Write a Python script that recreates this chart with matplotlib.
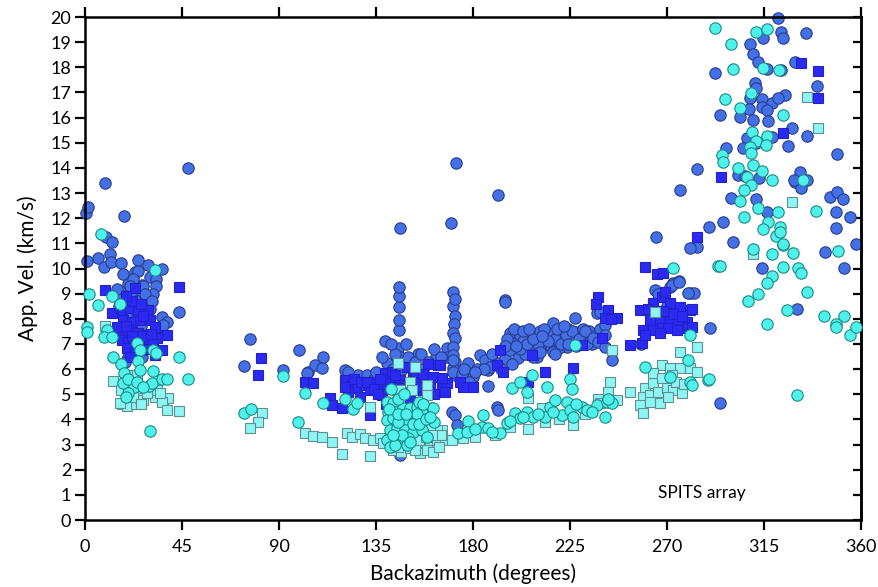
import matplotlib
matplotlib.use("Agg")
import matplotlib.pyplot as plt

plt.rcParams['font.family'] = ['Lato', 'DejaVu Sans']

# (backazimuth deg, apparent velocity km/s)
blue_circles = [
    (0.5,12.2),(1.3,12.45),(9.3,13.4),(18.1,12.1),(47.8,14.0),(9.7,11.25),(12.7,11.05),(0.8,10.3),(6.1,10.4),
    (8.9,10.07),(11.6,10.57),(12.1,10.27),(16.6,10.2),(17.7,9.78),(20,9.4),(23.2,9.87),(24.7,10.35),(24.6,9.9),
    (29.3,10.14),(35.6,10.0),(30,9.67),(33,9.57),(33,9.32),(26.3,9.35),(31.4,9.0),(17,8.95),(24,9.1),(27.8,8.63),
    (23.2,8.75),(43.6,8.27),(35.7,8.07),(38,7.87),(20,6.48),(18.5,6.3),(26.4,6.48),(20.5,8.6),(22,8.0),(26,7.7),
    (29,7.3),(24,6.9),(21,6.7),(28,6.8),(33,7.6),(36,7.75),(19,8.2),(15,9.2),(27,9.3),(22.5,9.6),(25.5,8.3),(20.8,9.0),
    (21,9.3),(23,8.4),(28,9.0),(30,8.4),(19.5,7.3),(25,7.0),(31,8.7),(16,8.5),
    (76.5,7.2),(73.8,6.12),(91.8,5.96),(99.5,6.76),(103.6,5.89),(106.7,6.16),(109.9,6.04),(110.4,6.48),(103,5.84),
    (120.6,5.96),(126.6,5.77),(122,5.9),(131,5.75),(134,5.6),(139.1,7.12),(140.1,6.24),(145.2,6.84),(146.1,6.48),
    (148.4,6.24),(154.5,6.6),(161,6.24),(167.9,6.84),(167.9,6.48),(145.6,7.55),(145.6,7.95),(145.6,8.47),(145.8,8.9),
    (145.6,9.26),(146.1,11.6),(146.1,2.58),(143,6.0),(151,6.1),(157,6.0),(163,6.5),(138,6.5),(135,5.9),
    (147,6.0),(150,6.5),(153,6.3),(156,6.6),(159,6.3),(162,6.8),(165,6.5),(149,7.0),(144,6.6),(142,7.0),
    (172.1,14.2),(169.8,11.82),(191.6,12.92),(170.7,9.07),(194.8,8.75),(170.7,8.51),(171.6,8.8),(171.6,8.1),(171,7.8),
    (170.7,7.43),(171.6,7.24),(170.7,6.88),(170.7,6.56),(171.6,6.28),(170.7,6.04),(171.6,5.77),(170.7,5.89),
    (170.2,4.29),(171.6,4.17),(172.5,3.78),(170.7,6.36),
    (177.6,6.24),(183.2,6.56),(185.5,6.36),(186.9,5.96),(180,5.69),(186.9,5.33),(191.1,6.24),(194.8,6.44),(197.1,7.43),
    (200.4,7.03),(201.8,7.36),(197.1,6.76),(200.8,6.44),(205,6.84),(206.4,7.36),(209.6,7.28),(212,6.84),(209.6,6.48),
    (214.3,7.03),(214.7,7.36),(217.1,7.83),(218.9,7.48),(220.3,7.16),(221.7,7.48),(223.6,6.88),(225,7.28),(227.3,8.03),
    (228.2,7.48),(228.7,7.08),(232.8,7.28),(237.5,8.23),(237.5,7.43),(191.1,4.49),(191.6,4.37),(194.8,8.67),(203,7.1),
    (204,6.6),(207.5,7.0),(211,7.5),(213,7.2),(216,6.9),(216.5,7.4),(219,7.0),(222.5,7.25),(224,7.6),(226,7.0),
    (230,7.4),(231,7.1),(234,7.5),(235,7.0),(188,6.1),(193,6.0),(198,6.2),(202,6.8),(208,6.5),(175,5.8),(178,5.5),
    (182,6.0),(199,7.0),(210,7.0),(218,7.2),(227,7.3),(220,6.85),
    (196,7.2),(199,7.6),(203,7.5),(205,7.0),(208,7.2),(211,6.7),(213,7.6),(215,7.1),(217,6.7),(219,7.6),(221,7.0),
    (223,7.35),(224,7.0),(226,7.5),(229,7.2),(231,7.6),(233,7.0),(236,7.3),(239,7.6),(195,6.9),(189,6.6),(185,6.0),
    (181,5.9),(176,6.0),(200,6.9),(206,7.6),(212,7.3),(218,6.6),(222,7.7),(228,6.9),(232,7.5),
    (272.7,9.42),(275.5,9.5),(280.6,9.03),(282.5,9.03),(271.3,9.27),(264.4,9.15),(289.9,7.63),(238.9,8.27),
    (241.2,7.75),(241.2,7.36),(235.6,7.24),(238,7.08),(241.2,6.88),(244.4,6.36),(294.5,4.65),(264.8,11.27),
    (272.1,9.34),(279.8,9.01),(275.7,9.48),(283.7,13.94),(276,13.12),(283.7,10.87),(280.6,10.8),(289.6,11.66),
    (295.8,11.86),(300.7,11.07),(292.2,17.78),(294.5,16.1),(297.3,14.78),(299.9,12.82),(262,7.6),(268,8.0),
    (274,7.8),(278,8.3),(266,9.0),(270,8.5),(258,7.0),
    (321.6,19.95),(323.1,19.42),(314.6,19.15),(323.6,19.15),(334.7,19.35),(308.4,18.91),(310,18.53),(312.3,18.22),
    (316.2,17.92),(329.3,18.22),(323.1,17.89),(339.4,17.26),(310.8,17.39),(311.5,17.17),(308.4,16.79),(313.9,16.73),
    (318.5,16.57),(324.7,16.9),(321.6,16.77),(314.3,16.43),(316.2,16.3),(308.1,16.33),(304.1,16.01),(309.7,15.9),
    (316.9,15.86),(328.2,15.57),(335,15.27),(306.9,15.2),(326.2,14.87),(305.3,14.78),(311.5,15.0),(318.5,15.24),
    (349.1,14.55),(303,13.72),(312.6,13.59),(329.3,13.45),(332.1,13.21),(331.6,13.85),(311.1,12.75),(316.2,12.25),
    (345.5,12.85),(349.1,13.05),(351.7,12.75),(348.3,12.26),(354.9,12.06),(348.6,11.6),(357.9,10.96),(343.2,10.64),
    (352,10.03),(314.3,10.01),(330.1,8.38),(335,13.51),(306.1,13.67),(329.0,13.51),
]

blue_squares = [
    (9.3,9.15),(23.2,9.22),(43.6,9.26),(12.7,8.22),(17.0,8.35),(20.9,8.42),(24.7,8.28),(29.4,8.35),(17.8,7.95),
    (21.7,7.88),(25.5,7.95),(30.1,7.95),(32.5,7.69),(37.1,7.36),(16.2,7.55),(20.1,7.55),(24.7,7.42),(28.6,7.36),
    (33.2,7.22),(17.0,7.16),(20.1,7.09),(23.2,7.16),(27.8,7.03),(31.7,7.03),(35.6,6.76),(19.3,6.83),(23.2,6.69),
    (32.5,6.56),(14.8,7.67),(38,7.36),(22,8.7),(26,8.6),(19,8.9),(27,8.1),(19,7.7),(26.5,7.3),(30.5,7.4),(22,7.3),
    (25,6.9),(29.5,6.8),(21,6.5),
    (81.6,6.44),(80.2,5.77),(102,5.49),(105.9,5.45),(113.6,4.85),(114.6,4.57),(119.2,4.45),(120.6,5.57),(123.8,5.37),
    (126.2,5.25),(129.9,5.37),(132.2,5.17),(132.2,4.17),(135.4,5.45),(138.2,5.37),(141.5,5.57),(139.1,5.84),
    (142.4,5.89),(146.1,5.57),(148.4,5.37),(146.1,5.25),(152.1,5.69),(154.5,5.45),(158.6,5.57),(161.4,5.69),
    (163.7,6.16),(165.6,5.25),(167.9,5.45),(156.8,5.17),(149.4,6.08),(137.8,4.97),(127.6,4.89),(122,5.09),
    (120.6,5.3),(125,5.6),(128,5.5),(131,5.5),(134,5.2),(137,5.6),(140,5.2),(143,5.3),(144,5.75),(150,5.4),
    (153,5.9),(155,5.3),(157,5.8),(160,5.3),(162,5.0),(159,6.2),(164.7,6.16),(165.6,5.65),(167,5.09),(173.9,5.49),
    (180,5.29),(175.3,5.29),(136,5.0),(139.5,4.6),(145,4.9),(151,4.8),
    (192.5,6.76),(191.1,6.16),(193.9,5.89),(207.3,6.56),(213.4,5.89),(226.3,6.04),(230.5,6.96),(205.5,5.49),
    (259.7,10.06),(265.3,9.78),(268.1,9.82),(238,8.87),(242.6,8.35),(241.2,8.03),(246.8,8.03),(239.8,7.24),
    (252.8,6.96),(258.4,7.04),(257.4,8.35),(263.5,8.63),(267.6,8.87),(269,9.07),(271.3,8.63),(276,8.47),(280.6,8.35),
    (262.1,7.95),(266.7,7.95),(271.3,7.87),(275.1,7.95),(279.2,7.87),(258.8,7.55),(263.5,7.55),(267.6,7.63),
    (270.4,7.63),(274.6,7.55),(279.7,7.63),(259.7,7.36),(266.7,7.43),(264.4,8.3),(273,8.2),(277,8.1),(261,8.4),
    (268,8.3),(281.4,8.38),(281.4,7.69),(284,11.27),(295,13.62),(323.6,15.4),(332.4,18.18),(340.1,17.86),
    (340.1,16.79),(237,8.6),(244,8.0),
]

cyan_circles = [
    (7.4,11.37),(1.9,9.0),(12.5,8.9),(32.5,9.94),(6,8.55),(16.2,8.6),(0.8,7.68),(0.8,7.48),(10,7.55),(8.8,7.28),
    (12.5,7.28),(24,7.03),(25.5,6.76),(31.7,6.76),(33,6.64),(13,6.48),(43.6,6.48),(16.6,6.2),(24.7,6.32),(31.7,5.92),
    (18.1,5.84),(25.5,5.96),(17.8,5.45),(22.9,5.29),(20.1,5.05),(29.8,5.33),(31,5.45),(35.7,5.6),(37.9,5.6),
    (47.9,5.6),(30.1,3.54),(20,5.6),(24,5.5),(27,5.3),(19,4.9),
    (73.8,4.25),(76.8,4.41),(91.8,5.73),(98.8,3.9),(102,5.05),(110.4,4.65),(120.6,4.81),(124.3,4.41),(126.2,4.65),
    (139.9,4.70),(143,4.64),(140.7,4.31),(143.8,4.31),(147.6,4.44),(150.7,4.44),(153.8,4.5),(157.7,4.31),
    (160.8,4.44),(139.9,3.98),(143,4.04),(146.1,4.04),(150,3.98),(153.1,3.91),(156.9,3.98),(141.5,3.58),
    (144.6,3.65),(148.4,3.58),(152.3,3.51),(156.2,3.58),(158.5,3.31),(139.9,3.18),(146.1,3.31),(150,3.25),
    (141.5,2.91),(149.2,2.98),(145,4.8),(148,5.0),(142,5.2),(155,4.7),(161.4,4.45),(162,3.9),(145,3.9),(154,4.2),
    (141,4.4),(145,4.2),(149,4.2),(152,3.8),(155,3.8),(158,4.0),(147,3.4),(151,3.1),(144,3.0),(143,3.4),(157,4.6),
    (160,4.1),
    (198,5.25),(201.8,5.49),(207.3,5.77),(214.3,5.29),(225,5.6),(225.9,5.21),(227.3,6.96),(205,5.09),(184.6,4.17),
    (177.6,3.94),(173,3.46),(177.2,3.5),(184.1,3.7),(186.9,3.66),(192.5,3.46),(195.7,3.86),(199.4,4.25),
    (201.8,4.05),(205,4.29),(207.8,4.1),(213.4,4.1),(215.7,4.49),(218,4.77),(221.2,4.17),(223.6,4.69),(225,4.37),
    (226.3,4.1),(230.5,4.49),(232.8,4.37),(237.5,4.57),(210,4.2),(203,4.1),(217,4.3),(228,4.6),(235,4.3),
    (189,3.5),(181,3.6),(197,3.95),
    (272.7,10.02),(293.6,10.1),(280.6,7.36),(259.7,6.08),(279.7,6.36),(271.3,5.69),(280.6,5.49),(281.5,5.37),
    (289,5.57),(242,4.69),(244.4,4.65),(241.2,4.1),(242.6,4.81),(289.4,5.59),
    (292.2,19.55),(311.2,19.39),(316.2,19.52),(299.9,18.91),(300.7,17.92),(314.6,17.96),(322,17.89),(296.8,16.74),
    (309.2,16.96),(303.8,16.37),(323.6,16.1),(309.5,15.44),(311.5,15.08),(316.2,15.27),(315.9,14.91),(308.4,14.84),
    (308.8,14.6),(295.3,14.51),(296.1,14.25),(303,13.98),(309.7,14.11),(306.9,13.65),(314.3,13.89),(318.5,13.52),
    (309.2,13.32),(305.8,13.12),(332.9,13.52),(304.1,12.68),(312.3,12.42),(321.6,12.26),(339,12.3),(305.7,12.06),
    (316.9,11.86),(322.4,11.66),(314.6,11.56),(320.8,11.29),(323.6,10.93),(310,10.76),(318.9,10.58),(328.5,10.63),
    (349.4,10.71),(294.5,10.11),(323.6,10.07),(330.9,10.01),(332.1,9.83),(318.9,9.7),(316.2,9.41),(312.3,8.99),
    (335,9.08),(307.6,8.72),(325.7,8.35),(316.2,7.79),(342.9,8.11),(352,8.12),(348.3,7.79),(348.6,7.66),
    (354.9,7.36),(357.9,7.69),(330.5,4.97),(322.2,11.46),(323.9,10.97),
]

cyan_squares = [
    (9.3,7.71),(13,5.53),(16.7,5.17),(17,4.61),(19.3,4.53),(23.7,4.61),(25.5,4.85),(26.9,4.77),(32.5,4.89),
    (36.3,4.77),(38.5,4.85),(35.7,4.69),(38,4.37),(43.6,4.33),(22.3,4.89),(24,5.37),(28.7,5.05),(20,5.77),
    (22.3,5.57),(33.3,5.17),(34.8,5.05),(16.2,4.65),(24.1,5.77),(20,5.25),(26,4.6),
    (82,4.25),(80.2,3.89),(76.5,3.66),(102,3.46),(105.9,3.34),(109.9,3.3),(114.6,3.1),(119.2,2.62),(121.5,3.46),
    (123.8,3.3),(127.6,3.42),(129.9,3.26),(132.2,2.54),(133.6,3.18),(136.8,3.26),(138.2,3.06),(132.2,4.49),
    (145.2,6.24),(153.1,6.08),(144.7,5.17),(150.7,5.49),(151.7,5.17),(158.6,4.97),(158.6,5.37),(146,5.17),
    (141.5,3.18),(144.6,3.05),(147.6,2.98),(150.7,3.18),(153.8,2.98),(156.9,3.11),(160,3.05),(163.1,3.18),
    (165.4,3.58),(167,3.18),(143,2.78),(146.8,2.72),(150.7,2.85),(155.4,2.65),(158.5,2.78),(161.5,2.72),
    (163.1,3.58),(153.8,3.71),(150.7,3.78),(160,3.65),(170.2,3.18),(175.3,3.26),(180.9,3.3),(165,3.4),
    (142,3.4),(148,3.3),(152,3.0),(155,3.2),(158,3.3),(161,3.4),(164,2.9),(145,2.9),(153,2.8),
    (205.5,4.85),(205.5,3.62),(213.4,3.9),(226.3,3.78),(212,4.45),(238,4.81),(243.5,5.49),(246.8,4.77),
    (238.9,4.65),(244.4,6.76),(252.8,5.09),(242.6,5.09),(220,4.0),(232,4.2),(190,3.4),(197,3.7),
    (276,6.68),(283.9,6.88),(259.7,5.24),(263.6,5.44),(267.5,6.16),(271.3,6.03),(276,6.03),(280.6,6.03),
    (283.7,5.9),(263.6,5.83),(267.5,5.63),(272.1,5.77),(258.9,4.9),(262.1,4.97),(265.9,5.1),(269.8,5.24),
    (272.9,5.17),(276.8,5.04),(257.4,4.57),(262.1,4.7),(266.7,4.64),(270.6,4.9),(258.9,4.24),(264.4,8.27),
    (274,5.5),(278,5.4),(284,6.89),(335,16.83),(340.1,15.57),(328,12.66),(309.7,10.58),
]

x_ticks = [0, 45, 90, 135, 180, 225, 270, 315, 360]
y_ticks = list(range(0, 21))

fig = plt.figure(figsize=(8.79, 5.87), dpi=100)
ax = fig.add_axes([0.0967, 0.1141, 0.8828, 0.8569])

def draw(data, marker, size, fc, ec, z):
    xs = [p[0] for p in data]
    ys = [p[1] for p in data]
    ax.plot(xs, ys, linestyle='none', marker=marker, markersize=size,
            markerfacecolor=fc, markeredgecolor=ec, markeredgewidth=0.8, zorder=z,
            clip_on=False)

draw(blue_circles, 'o', 8.2, '#4470e6', '#2a3c8c', 2)
draw(blue_squares, 's', 7.6, '#2a2af2', '#2222c8', 3)
draw(cyan_squares, 's', 7.6, '#8ef5f5', '#5f8f8f', 4)
draw(cyan_circles, 'o', 8.2, '#4ff2ea', '#1c8a88', 5)

ax.set_xlim(0, 360)
ax.set_ylim(0, 20)
ax.set_xticks(x_ticks)
ax.set_yticks(y_ticks)
ax.tick_params(axis='x', direction='out', length=7, width=1.6, top=True, labelsize=13, pad=7)
ax.tick_params(axis='y', direction='out', length=7, width=1.6, right=False, labelsize=13, pad=3)
sec = ax.secondary_yaxis('right')
sec.set_yticks(y_ticks)
sec.tick_params(direction='in', length=6, width=1.6, labelright=False)
sec.spines['right'].set_linewidth(1.8)
for s in ax.spines.values():
    s.set_linewidth(1.8)

ax.set_xlabel('Backazimuth (degrees)', fontsize=15, labelpad=6)
ax.set_ylabel('App. Vel. (km/s)', fontsize=15, labelpad=9)
ax.text(286, 1.07, 'SPITS array', fontsize=12.5, ha='center', va='center')

fig.savefig('out.png', dpi=100)
